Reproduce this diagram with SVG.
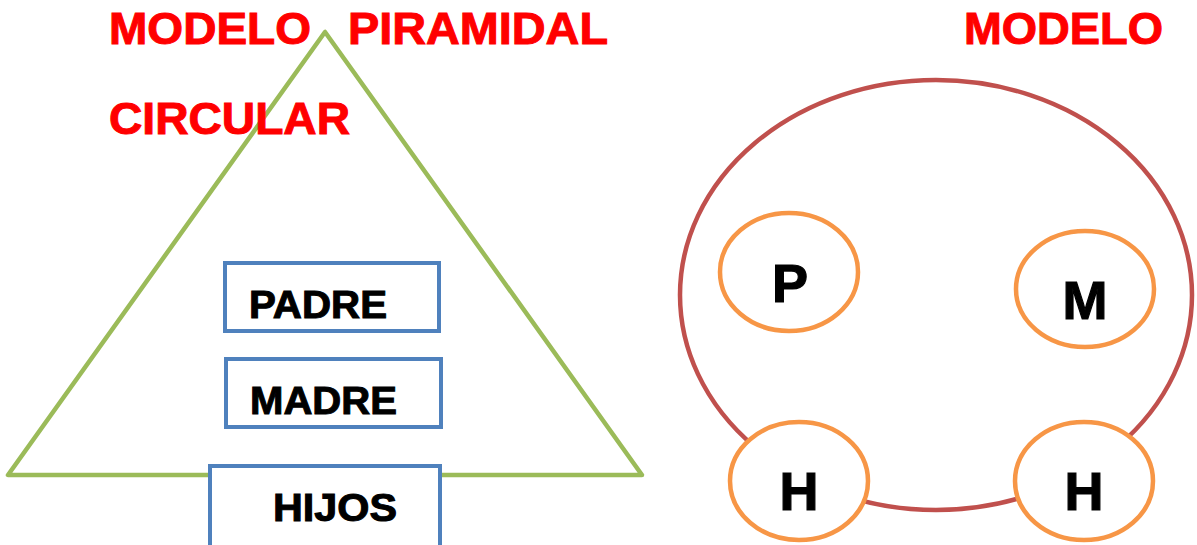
<svg xmlns="http://www.w3.org/2000/svg" width="1197" height="545" viewBox="0 0 1197 545">
<style>
.title{font-family:"Liberation Sans",Arial,sans-serif;font-weight:bold;font-size:45px;fill:#FF0000;stroke:#FF0000;stroke-width:1}
.box{fill:#FFFFFF;stroke:#4F81BD;stroke-width:4}
.boxtxt{font-family:"Liberation Sans",Arial,sans-serif;font-weight:bold;font-size:38px;fill:#000000;stroke:#000000;stroke-width:1}
.small{fill:#FFFFFF;stroke:#F79646;stroke-width:4.5}
.letter{font-family:"Liberation Sans",Arial,sans-serif;font-weight:bold;font-size:54px;fill:#000000;stroke:#000000;stroke-width:1.2;text-anchor:middle}
</style>
<rect width="1197" height="545" fill="#FFFFFF"/>
<g id="piramide">
<polygon points="325,32 8,475 642,475" fill="none" stroke="#9BBB59" stroke-width="4.5" stroke-linejoin="round"/>
</g>
<g id="titulos">
<text class="title" x="109" y="44" textLength="202" lengthAdjust="spacingAndGlyphs">MODELO</text>
<text class="title" x="348" y="44" textLength="260" lengthAdjust="spacingAndGlyphs">PIRAMIDAL</text>
<text class="title" x="964" y="44" textLength="199" lengthAdjust="spacingAndGlyphs">MODELO</text>
<text class="title" x="109" y="134" textLength="241" lengthAdjust="spacingAndGlyphs">CIRCULAR</text>
</g>
<g id="padre">
<rect class="box" x="225" y="263" width="214" height="68"/>
<text class="boxtxt" x="249" y="318" textLength="138" lengthAdjust="spacingAndGlyphs">PADRE</text>
</g>
<g id="madre">
<rect class="box" x="226" y="359" width="215" height="68"/>
<text class="boxtxt" x="250" y="414" textLength="147" lengthAdjust="spacingAndGlyphs">MADRE</text>
</g>
<g id="hijos">
<rect class="box" x="210" y="466" width="230" height="90"/>
<text class="boxtxt" x="273" y="521" textLength="124" lengthAdjust="spacingAndGlyphs">HIJOS</text>
</g>
<g id="circulo">
<ellipse cx="936" cy="295" rx="256" ry="215" fill="none" stroke="#C0504D" stroke-width="4.5"/>
</g>
<g id="connectors"></g>
<g id="p">
<ellipse class="small" cx="789" cy="272" rx="69" ry="59"/>
<text class="letter" x="790" y="302">P</text>
</g>
<g id="m">
<ellipse class="small" cx="1085" cy="289" rx="69" ry="58"/>
<text class="letter" x="1085" y="319">M</text>
</g>
<g id="h1">
<ellipse class="small" cx="799" cy="481" rx="69" ry="59"/>
<text class="letter" x="799" y="510">H</text>
</g>
<g id="h2">
<ellipse class="small" cx="1084" cy="481" rx="69" ry="59"/>
<text class="letter" x="1084" y="510">H</text>
</g>
</svg>
